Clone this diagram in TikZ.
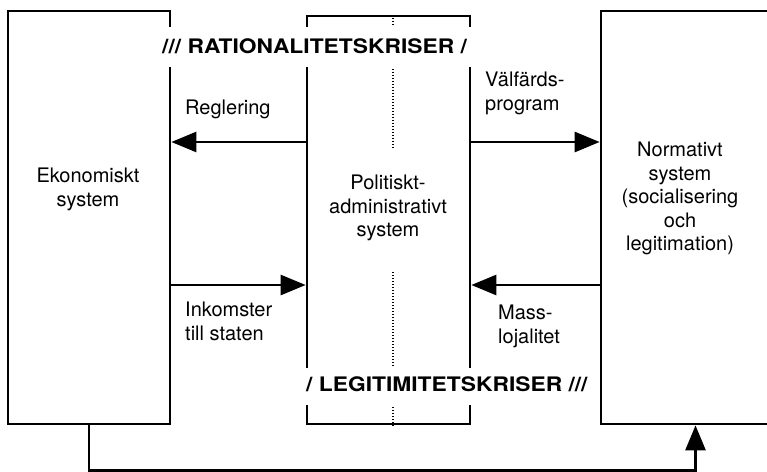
\documentclass[tikz,border=0pt]{standalone}
\usepackage{fontspec}
\setmainfont{TeX Gyre Heros}
\newfontfamily\krisfont[FakeStretch=1.14]{TeX Gyre Heros}
\usetikzlibrary{arrows.meta}

\begin{document}
\begin{tikzpicture}[x=1pt,y=-1pt,
            box/.style={draw,line width=2.7pt,inner sep=0pt},
            pil/.style={line width=2.7pt,-{Triangle[length=25pt,width=20pt]}},
            prick/.style={line width=2pt,dash pattern=on 1.4pt off 1.6pt},
            etikett/.style={inner sep=0pt,font=\fontsize{20}{23.5}\selectfont},
            kris/.style={fill=white,inner xsep=10pt,inner ysep=0pt,font=\fontsize{20}{24}\krisfont\bfseries}]
            \useasboundingbox (0,0) rectangle (767,471);

            \node[box,minimum width=162pt,minimum height=413pt] (eko) at (89,217.5) {};
            \node[box,minimum width=163pt,minimum height=408pt] (pol) at (388.5,220) {};
            \node[box,minimum width=189pt,minimum height=413pt] (norm) at (695.5,217.5) {};

            \draw[prick] ([xshift=4.5pt]pol.north) -- ([xshift=4.5pt]pol.north |- 0,147);
            \draw[prick] ([xshift=4.5pt]pol.south |- 0,272) -- ([xshift=4.5pt]pol.south);

            \coordinate (ovre) at (0,142);
            \coordinate (nedre) at (0,285);

            \draw[pil] (pol.west |- ovre) -- (eko.east |- ovre);
            \draw[pil] (pol.east |- ovre) -- (norm.west |- ovre);
            \draw[pil] (eko.east |- nedre) -- (pol.west |- nedre);
            \draw[pil] (norm.west |- nedre) -- (pol.east |- nedre);
            \draw[pil] (eko.south) -- ++(0,45) -| (norm.south);

            \node[etikett,anchor=north west] (regl) at (185,100) {Reglering};
            \node[etikett,anchor=north west,align=left] (valf) at (485,72) {Välfärds-\\program};
            \node[etikett,anchor=north,align=center] (ekotxt) at (88,168) {Ekonomiskt\\system};
            \node[etikett,anchor=north,align=center] (poltxt) at (388,175) {Politiskt-\\administrativt\\system};
            \node[etikett,anchor=north,align=center] (normtxt) at (680,142) {Normativt\\system\\(socialisering\\och\\legitimation)};
            \node[etikett,anchor=north west,align=left] (inko) at (185,302) {Inkomster\\till staten};
            \node[etikett,anchor=north west,align=left] (mass) at (498,305) {Mass-\\lojalitet};

            \node[kris,text height=26pt,text depth=14pt,anchor=base west] (rat) at (152,53) {/// RATIONALITETSKRISER /};
            \node[kris,text height=23pt,text depth=14pt,anchor=base west] (leg) at (296,391) {/ LEGITIMITETSKRISER ///};
\end{tikzpicture}
\end{document}
